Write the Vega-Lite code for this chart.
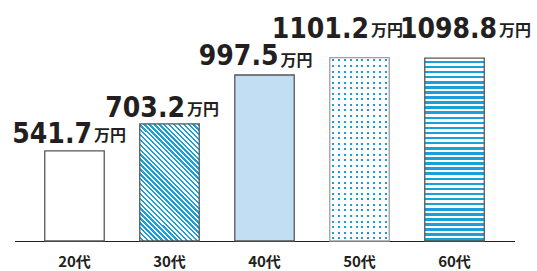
{
  "$schema": "https://vega.github.io/schema/vega-lite/v6.json",
  "width": 537,
  "height": 241,
  "padding": {"top": 0, "left": 0, "right": 0, "bottom": 30},
  "autosize": {"type": "none"},
  "background": "#ffffff",
  "config": {"view": {"stroke": null}},
  "data": {"values": [
    {"age": "20代", "value": 541.7},
    {"age": "30代", "value": 703.2},
    {"age": "40代", "value": 997.5},
    {"age": "50代", "value": 1101.2},
    {"age": "60代", "value": 1098.8}
  ]},
  "encoding": {
    "x": {"field": "age", "type": "nominal", "sort": null,
      "scale": {"range": [14.5, 514.5], "paddingInner": 0.374, "paddingOuter": 0.3185},
      "axis": {"title": null, "labelAngle": 0, "ticks": false, "tickSize": 0, "labelPadding": 13,
        "labelFont": "Noto Sans CJK JP", "labelFontSize": 15, "labelFontWeight": "bold", "labelColor": "#231f20",
        "domainColor": "#231f20", "domainWidth": 1, "grid": false}},
    "y": {"field": "value", "type": "quantitative", "scale": {"domain": [0, 1448]}, "axis": null}
  },
  "layer": [
    {"mark": {"type": "bar", "fill": "#ffffff", "strokeWidth": 0}},
    {"transform": [{"filter": "datum.age === '30代'"}],
     "mark": {"type": "bar", "strokeWidth": 0, "fill": {"gradient": "linear", "x1": 0, "y1": 1, "x2": 0.609, "y2": -0.199, "stops": [
      {"offset": 0, "color": "#ffffff"}, {"offset": 0.01389, "color": "#ffffff"}, {"offset": 0.01389, "color": "#1a9fdb"}, {"offset": 0.02778, "color": "#1a9fdb"},
      {"offset": 0.02778, "color": "#ffffff"}, {"offset": 0.04167, "color": "#ffffff"}, {"offset": 0.04167, "color": "#1a9fdb"}, {"offset": 0.05556, "color": "#1a9fdb"},
      {"offset": 0.05556, "color": "#ffffff"}, {"offset": 0.06944, "color": "#ffffff"}, {"offset": 0.06944, "color": "#1a9fdb"}, {"offset": 0.08333, "color": "#1a9fdb"},
      {"offset": 0.08333, "color": "#ffffff"}, {"offset": 0.09722, "color": "#ffffff"}, {"offset": 0.09722, "color": "#1a9fdb"}, {"offset": 0.11111, "color": "#1a9fdb"},
      {"offset": 0.11111, "color": "#ffffff"}, {"offset": 0.125, "color": "#ffffff"}, {"offset": 0.125, "color": "#1a9fdb"}, {"offset": 0.13889, "color": "#1a9fdb"},
      {"offset": 0.13889, "color": "#ffffff"}, {"offset": 0.15278, "color": "#ffffff"}, {"offset": 0.15278, "color": "#1a9fdb"}, {"offset": 0.16667, "color": "#1a9fdb"},
      {"offset": 0.16667, "color": "#ffffff"}, {"offset": 0.18056, "color": "#ffffff"}, {"offset": 0.18056, "color": "#1a9fdb"}, {"offset": 0.19444, "color": "#1a9fdb"},
      {"offset": 0.19444, "color": "#ffffff"}, {"offset": 0.20833, "color": "#ffffff"}, {"offset": 0.20833, "color": "#1a9fdb"}, {"offset": 0.22222, "color": "#1a9fdb"},
      {"offset": 0.22222, "color": "#ffffff"}, {"offset": 0.23611, "color": "#ffffff"}, {"offset": 0.23611, "color": "#1a9fdb"}, {"offset": 0.25, "color": "#1a9fdb"},
      {"offset": 0.25, "color": "#ffffff"}, {"offset": 0.26389, "color": "#ffffff"}, {"offset": 0.26389, "color": "#1a9fdb"}, {"offset": 0.27778, "color": "#1a9fdb"},
      {"offset": 0.27778, "color": "#ffffff"}, {"offset": 0.29167, "color": "#ffffff"}, {"offset": 0.29167, "color": "#1a9fdb"}, {"offset": 0.30556, "color": "#1a9fdb"},
      {"offset": 0.30556, "color": "#ffffff"}, {"offset": 0.31944, "color": "#ffffff"}, {"offset": 0.31944, "color": "#1a9fdb"}, {"offset": 0.33333, "color": "#1a9fdb"},
      {"offset": 0.33333, "color": "#ffffff"}, {"offset": 0.34722, "color": "#ffffff"}, {"offset": 0.34722, "color": "#1a9fdb"}, {"offset": 0.36111, "color": "#1a9fdb"},
      {"offset": 0.36111, "color": "#ffffff"}, {"offset": 0.375, "color": "#ffffff"}, {"offset": 0.375, "color": "#1a9fdb"}, {"offset": 0.38889, "color": "#1a9fdb"},
      {"offset": 0.38889, "color": "#ffffff"}, {"offset": 0.40278, "color": "#ffffff"}, {"offset": 0.40278, "color": "#1a9fdb"}, {"offset": 0.41667, "color": "#1a9fdb"},
      {"offset": 0.41667, "color": "#ffffff"}, {"offset": 0.43056, "color": "#ffffff"}, {"offset": 0.43056, "color": "#1a9fdb"}, {"offset": 0.44444, "color": "#1a9fdb"},
      {"offset": 0.44444, "color": "#ffffff"}, {"offset": 0.45833, "color": "#ffffff"}, {"offset": 0.45833, "color": "#1a9fdb"}, {"offset": 0.47222, "color": "#1a9fdb"},
      {"offset": 0.47222, "color": "#ffffff"}, {"offset": 0.48611, "color": "#ffffff"}, {"offset": 0.48611, "color": "#1a9fdb"}, {"offset": 0.5, "color": "#1a9fdb"},
      {"offset": 0.5, "color": "#ffffff"}, {"offset": 0.51389, "color": "#ffffff"}, {"offset": 0.51389, "color": "#1a9fdb"}, {"offset": 0.52778, "color": "#1a9fdb"},
      {"offset": 0.52778, "color": "#ffffff"}, {"offset": 0.54167, "color": "#ffffff"}, {"offset": 0.54167, "color": "#1a9fdb"}, {"offset": 0.55556, "color": "#1a9fdb"},
      {"offset": 0.55556, "color": "#ffffff"}, {"offset": 0.56944, "color": "#ffffff"}, {"offset": 0.56944, "color": "#1a9fdb"}, {"offset": 0.58333, "color": "#1a9fdb"},
      {"offset": 0.58333, "color": "#ffffff"}, {"offset": 0.59722, "color": "#ffffff"}, {"offset": 0.59722, "color": "#1a9fdb"}, {"offset": 0.61111, "color": "#1a9fdb"},
      {"offset": 0.61111, "color": "#ffffff"}, {"offset": 0.625, "color": "#ffffff"}, {"offset": 0.625, "color": "#1a9fdb"}, {"offset": 0.63889, "color": "#1a9fdb"},
      {"offset": 0.63889, "color": "#ffffff"}, {"offset": 0.65278, "color": "#ffffff"}, {"offset": 0.65278, "color": "#1a9fdb"}, {"offset": 0.66667, "color": "#1a9fdb"},
      {"offset": 0.66667, "color": "#ffffff"}, {"offset": 0.68056, "color": "#ffffff"}, {"offset": 0.68056, "color": "#1a9fdb"}, {"offset": 0.69444, "color": "#1a9fdb"},
      {"offset": 0.69444, "color": "#ffffff"}, {"offset": 0.70833, "color": "#ffffff"}, {"offset": 0.70833, "color": "#1a9fdb"}, {"offset": 0.72222, "color": "#1a9fdb"},
      {"offset": 0.72222, "color": "#ffffff"}, {"offset": 0.73611, "color": "#ffffff"}, {"offset": 0.73611, "color": "#1a9fdb"}, {"offset": 0.75, "color": "#1a9fdb"},
      {"offset": 0.75, "color": "#ffffff"}, {"offset": 0.76389, "color": "#ffffff"}, {"offset": 0.76389, "color": "#1a9fdb"}, {"offset": 0.77778, "color": "#1a9fdb"},
      {"offset": 0.77778, "color": "#ffffff"}, {"offset": 0.79167, "color": "#ffffff"}, {"offset": 0.79167, "color": "#1a9fdb"}, {"offset": 0.80556, "color": "#1a9fdb"},
      {"offset": 0.80556, "color": "#ffffff"}, {"offset": 0.81944, "color": "#ffffff"}, {"offset": 0.81944, "color": "#1a9fdb"}, {"offset": 0.83333, "color": "#1a9fdb"},
      {"offset": 0.83333, "color": "#ffffff"}, {"offset": 0.84722, "color": "#ffffff"}, {"offset": 0.84722, "color": "#1a9fdb"}, {"offset": 0.86111, "color": "#1a9fdb"},
      {"offset": 0.86111, "color": "#ffffff"}, {"offset": 0.875, "color": "#ffffff"}, {"offset": 0.875, "color": "#1a9fdb"}, {"offset": 0.88889, "color": "#1a9fdb"},
      {"offset": 0.88889, "color": "#ffffff"}, {"offset": 0.90278, "color": "#ffffff"}, {"offset": 0.90278, "color": "#1a9fdb"}, {"offset": 0.91667, "color": "#1a9fdb"},
      {"offset": 0.91667, "color": "#ffffff"}, {"offset": 0.93056, "color": "#ffffff"}, {"offset": 0.93056, "color": "#1a9fdb"}, {"offset": 0.94444, "color": "#1a9fdb"},
      {"offset": 0.94444, "color": "#ffffff"}, {"offset": 0.95833, "color": "#ffffff"}, {"offset": 0.95833, "color": "#1a9fdb"}, {"offset": 0.97222, "color": "#1a9fdb"},
      {"offset": 0.97222, "color": "#ffffff"}, {"offset": 0.98611, "color": "#ffffff"}, {"offset": 0.98611, "color": "#1a9fdb"}, {"offset": 1, "color": "#1a9fdb"}
     ]}}},
    {"transform": [{"filter": "datum.age === '40代'"}],
     "mark": {"type": "bar", "strokeWidth": 0, "fill": "#c2def3"}},
    {"transform": [{"filter": "datum.age === '50代'"}],
     "mark": {"type": "bar", "strokeWidth": 0, "fill": {"gradient": "linear", "x1": 0, "y1": 0, "x2": 1, "y2": 0, "stops": [
      {"offset": 0, "color": "#ffffff"},
      {"offset": 0.033, "color": "#ffffff"}, {"offset": 0.033, "color": "#1a9fdb"}, {"offset": 0.067, "color": "#1a9fdb"}, {"offset": 0.067, "color": "#ffffff"},
      {"offset": 0.133, "color": "#ffffff"}, {"offset": 0.133, "color": "#1a9fdb"}, {"offset": 0.167, "color": "#1a9fdb"}, {"offset": 0.167, "color": "#ffffff"},
      {"offset": 0.233, "color": "#ffffff"}, {"offset": 0.233, "color": "#1a9fdb"}, {"offset": 0.267, "color": "#1a9fdb"}, {"offset": 0.267, "color": "#ffffff"},
      {"offset": 0.333, "color": "#ffffff"}, {"offset": 0.333, "color": "#1a9fdb"}, {"offset": 0.367, "color": "#1a9fdb"}, {"offset": 0.367, "color": "#ffffff"},
      {"offset": 0.433, "color": "#ffffff"}, {"offset": 0.433, "color": "#1a9fdb"}, {"offset": 0.467, "color": "#1a9fdb"}, {"offset": 0.467, "color": "#ffffff"},
      {"offset": 0.533, "color": "#ffffff"}, {"offset": 0.533, "color": "#1a9fdb"}, {"offset": 0.567, "color": "#1a9fdb"}, {"offset": 0.567, "color": "#ffffff"},
      {"offset": 0.633, "color": "#ffffff"}, {"offset": 0.633, "color": "#1a9fdb"}, {"offset": 0.667, "color": "#1a9fdb"}, {"offset": 0.667, "color": "#ffffff"},
      {"offset": 0.733, "color": "#ffffff"}, {"offset": 0.733, "color": "#1a9fdb"}, {"offset": 0.767, "color": "#1a9fdb"}, {"offset": 0.767, "color": "#ffffff"},
      {"offset": 0.833, "color": "#ffffff"}, {"offset": 0.833, "color": "#1a9fdb"}, {"offset": 0.867, "color": "#1a9fdb"}, {"offset": 0.867, "color": "#ffffff"},
      {"offset": 0.933, "color": "#ffffff"}, {"offset": 0.933, "color": "#1a9fdb"}, {"offset": 0.967, "color": "#1a9fdb"}, {"offset": 0.967, "color": "#ffffff"},
      {"offset": 1, "color": "#ffffff"}
     ]}}},
    {"transform": [{"filter": "datum.age === '50代'"}],
     "mark": {"type": "bar", "strokeWidth": 0, "fill": {"gradient": "linear", "x1": 0, "y1": 0, "x2": 0, "y2": 1, "stops": [
      {"offset": 0, "color": "#ffffff"},
      {"offset": 0.0097, "color": "#ffffff"}, {"offset": 0.0097, "color": "rgba(255,255,255,0)"}, {"offset": 0.0206, "color": "rgba(255,255,255,0)"}, {"offset": 0.0206, "color": "#ffffff"},
      {"offset": 0.0400, "color": "#ffffff"}, {"offset": 0.0400, "color": "rgba(255,255,255,0)"}, {"offset": 0.0509, "color": "rgba(255,255,255,0)"}, {"offset": 0.0509, "color": "#ffffff"},
      {"offset": 0.0703, "color": "#ffffff"}, {"offset": 0.0703, "color": "rgba(255,255,255,0)"}, {"offset": 0.0812, "color": "rgba(255,255,255,0)"}, {"offset": 0.0812, "color": "#ffffff"},
      {"offset": 0.1006, "color": "#ffffff"}, {"offset": 0.1006, "color": "rgba(255,255,255,0)"}, {"offset": 0.1115, "color": "rgba(255,255,255,0)"}, {"offset": 0.1115, "color": "#ffffff"},
      {"offset": 0.1309, "color": "#ffffff"}, {"offset": 0.1309, "color": "rgba(255,255,255,0)"}, {"offset": 0.1418, "color": "rgba(255,255,255,0)"}, {"offset": 0.1418, "color": "#ffffff"},
      {"offset": 0.1612, "color": "#ffffff"}, {"offset": 0.1612, "color": "rgba(255,255,255,0)"}, {"offset": 0.1721, "color": "rgba(255,255,255,0)"}, {"offset": 0.1721, "color": "#ffffff"},
      {"offset": 0.1915, "color": "#ffffff"}, {"offset": 0.1915, "color": "rgba(255,255,255,0)"}, {"offset": 0.2024, "color": "rgba(255,255,255,0)"}, {"offset": 0.2024, "color": "#ffffff"},
      {"offset": 0.2218, "color": "#ffffff"}, {"offset": 0.2218, "color": "rgba(255,255,255,0)"}, {"offset": 0.2327, "color": "rgba(255,255,255,0)"}, {"offset": 0.2327, "color": "#ffffff"},
      {"offset": 0.2521, "color": "#ffffff"}, {"offset": 0.2521, "color": "rgba(255,255,255,0)"}, {"offset": 0.2630, "color": "rgba(255,255,255,0)"}, {"offset": 0.2630, "color": "#ffffff"},
      {"offset": 0.2824, "color": "#ffffff"}, {"offset": 0.2824, "color": "rgba(255,255,255,0)"}, {"offset": 0.2933, "color": "rgba(255,255,255,0)"}, {"offset": 0.2933, "color": "#ffffff"},
      {"offset": 0.3127, "color": "#ffffff"}, {"offset": 0.3127, "color": "rgba(255,255,255,0)"}, {"offset": 0.3236, "color": "rgba(255,255,255,0)"}, {"offset": 0.3236, "color": "#ffffff"},
      {"offset": 0.3430, "color": "#ffffff"}, {"offset": 0.3430, "color": "rgba(255,255,255,0)"}, {"offset": 0.3539, "color": "rgba(255,255,255,0)"}, {"offset": 0.3539, "color": "#ffffff"},
      {"offset": 0.3733, "color": "#ffffff"}, {"offset": 0.3733, "color": "rgba(255,255,255,0)"}, {"offset": 0.3842, "color": "rgba(255,255,255,0)"}, {"offset": 0.3842, "color": "#ffffff"},
      {"offset": 0.4036, "color": "#ffffff"}, {"offset": 0.4036, "color": "rgba(255,255,255,0)"}, {"offset": 0.4145, "color": "rgba(255,255,255,0)"}, {"offset": 0.4145, "color": "#ffffff"},
      {"offset": 0.4339, "color": "#ffffff"}, {"offset": 0.4339, "color": "rgba(255,255,255,0)"}, {"offset": 0.4448, "color": "rgba(255,255,255,0)"}, {"offset": 0.4448, "color": "#ffffff"},
      {"offset": 0.4642, "color": "#ffffff"}, {"offset": 0.4642, "color": "rgba(255,255,255,0)"}, {"offset": 0.4751, "color": "rgba(255,255,255,0)"}, {"offset": 0.4751, "color": "#ffffff"},
      {"offset": 0.4945, "color": "#ffffff"}, {"offset": 0.4945, "color": "rgba(255,255,255,0)"}, {"offset": 0.5054, "color": "rgba(255,255,255,0)"}, {"offset": 0.5054, "color": "#ffffff"},
      {"offset": 0.5249, "color": "#ffffff"}, {"offset": 0.5249, "color": "rgba(255,255,255,0)"}, {"offset": 0.5358, "color": "rgba(255,255,255,0)"}, {"offset": 0.5358, "color": "#ffffff"},
      {"offset": 0.5552, "color": "#ffffff"}, {"offset": 0.5552, "color": "rgba(255,255,255,0)"}, {"offset": 0.5661, "color": "rgba(255,255,255,0)"}, {"offset": 0.5661, "color": "#ffffff"},
      {"offset": 0.5855, "color": "#ffffff"}, {"offset": 0.5855, "color": "rgba(255,255,255,0)"}, {"offset": 0.5964, "color": "rgba(255,255,255,0)"}, {"offset": 0.5964, "color": "#ffffff"},
      {"offset": 0.6158, "color": "#ffffff"}, {"offset": 0.6158, "color": "rgba(255,255,255,0)"}, {"offset": 0.6267, "color": "rgba(255,255,255,0)"}, {"offset": 0.6267, "color": "#ffffff"},
      {"offset": 0.6461, "color": "#ffffff"}, {"offset": 0.6461, "color": "rgba(255,255,255,0)"}, {"offset": 0.6570, "color": "rgba(255,255,255,0)"}, {"offset": 0.6570, "color": "#ffffff"},
      {"offset": 0.6764, "color": "#ffffff"}, {"offset": 0.6764, "color": "rgba(255,255,255,0)"}, {"offset": 0.6873, "color": "rgba(255,255,255,0)"}, {"offset": 0.6873, "color": "#ffffff"},
      {"offset": 0.7067, "color": "#ffffff"}, {"offset": 0.7067, "color": "rgba(255,255,255,0)"}, {"offset": 0.7176, "color": "rgba(255,255,255,0)"}, {"offset": 0.7176, "color": "#ffffff"},
      {"offset": 0.7370, "color": "#ffffff"}, {"offset": 0.7370, "color": "rgba(255,255,255,0)"}, {"offset": 0.7479, "color": "rgba(255,255,255,0)"}, {"offset": 0.7479, "color": "#ffffff"},
      {"offset": 0.7673, "color": "#ffffff"}, {"offset": 0.7673, "color": "rgba(255,255,255,0)"}, {"offset": 0.7782, "color": "rgba(255,255,255,0)"}, {"offset": 0.7782, "color": "#ffffff"},
      {"offset": 0.7976, "color": "#ffffff"}, {"offset": 0.7976, "color": "rgba(255,255,255,0)"}, {"offset": 0.8085, "color": "rgba(255,255,255,0)"}, {"offset": 0.8085, "color": "#ffffff"},
      {"offset": 0.8279, "color": "#ffffff"}, {"offset": 0.8279, "color": "rgba(255,255,255,0)"}, {"offset": 0.8388, "color": "rgba(255,255,255,0)"}, {"offset": 0.8388, "color": "#ffffff"},
      {"offset": 0.8582, "color": "#ffffff"}, {"offset": 0.8582, "color": "rgba(255,255,255,0)"}, {"offset": 0.8691, "color": "rgba(255,255,255,0)"}, {"offset": 0.8691, "color": "#ffffff"},
      {"offset": 0.8885, "color": "#ffffff"}, {"offset": 0.8885, "color": "rgba(255,255,255,0)"}, {"offset": 0.8994, "color": "rgba(255,255,255,0)"}, {"offset": 0.8994, "color": "#ffffff"},
      {"offset": 0.9188, "color": "#ffffff"}, {"offset": 0.9188, "color": "rgba(255,255,255,0)"}, {"offset": 0.9297, "color": "rgba(255,255,255,0)"}, {"offset": 0.9297, "color": "#ffffff"},
      {"offset": 0.9491, "color": "#ffffff"}, {"offset": 0.9491, "color": "rgba(255,255,255,0)"}, {"offset": 0.9600, "color": "rgba(255,255,255,0)"}, {"offset": 0.9600, "color": "#ffffff"},
      {"offset": 0.9794, "color": "#ffffff"}, {"offset": 0.9794, "color": "rgba(255,255,255,0)"}, {"offset": 0.9903, "color": "rgba(255,255,255,0)"}, {"offset": 0.9903, "color": "#ffffff"},
      {"offset": 1, "color": "#ffffff"}
     ]}}},
    {"transform": [{"filter": "datum.age === '60代'"}],
     "mark": {"type": "bar", "strokeWidth": 0, "fill": {"gradient": "linear", "x1": 0, "y1": 0, "x2": 0, "y2": 1, "stops": [
      {"offset": 0, "color": "#ffffff"}, {"offset": 0.01389, "color": "#ffffff"}, {"offset": 0.01389, "color": "#1a9fdb"}, {"offset": 0.02778, "color": "#1a9fdb"},
      {"offset": 0.02778, "color": "#ffffff"}, {"offset": 0.04167, "color": "#ffffff"}, {"offset": 0.04167, "color": "#1a9fdb"}, {"offset": 0.05556, "color": "#1a9fdb"},
      {"offset": 0.05556, "color": "#ffffff"}, {"offset": 0.06944, "color": "#ffffff"}, {"offset": 0.06944, "color": "#1a9fdb"}, {"offset": 0.08333, "color": "#1a9fdb"},
      {"offset": 0.08333, "color": "#ffffff"}, {"offset": 0.09722, "color": "#ffffff"}, {"offset": 0.09722, "color": "#1a9fdb"}, {"offset": 0.11111, "color": "#1a9fdb"},
      {"offset": 0.11111, "color": "#ffffff"}, {"offset": 0.125, "color": "#ffffff"}, {"offset": 0.125, "color": "#1a9fdb"}, {"offset": 0.13889, "color": "#1a9fdb"},
      {"offset": 0.13889, "color": "#ffffff"}, {"offset": 0.15278, "color": "#ffffff"}, {"offset": 0.15278, "color": "#1a9fdb"}, {"offset": 0.16667, "color": "#1a9fdb"},
      {"offset": 0.16667, "color": "#ffffff"}, {"offset": 0.18056, "color": "#ffffff"}, {"offset": 0.18056, "color": "#1a9fdb"}, {"offset": 0.19444, "color": "#1a9fdb"},
      {"offset": 0.19444, "color": "#ffffff"}, {"offset": 0.20833, "color": "#ffffff"}, {"offset": 0.20833, "color": "#1a9fdb"}, {"offset": 0.22222, "color": "#1a9fdb"},
      {"offset": 0.22222, "color": "#ffffff"}, {"offset": 0.23611, "color": "#ffffff"}, {"offset": 0.23611, "color": "#1a9fdb"}, {"offset": 0.25, "color": "#1a9fdb"},
      {"offset": 0.25, "color": "#ffffff"}, {"offset": 0.26389, "color": "#ffffff"}, {"offset": 0.26389, "color": "#1a9fdb"}, {"offset": 0.27778, "color": "#1a9fdb"},
      {"offset": 0.27778, "color": "#ffffff"}, {"offset": 0.29167, "color": "#ffffff"}, {"offset": 0.29167, "color": "#1a9fdb"}, {"offset": 0.30556, "color": "#1a9fdb"},
      {"offset": 0.30556, "color": "#ffffff"}, {"offset": 0.31944, "color": "#ffffff"}, {"offset": 0.31944, "color": "#1a9fdb"}, {"offset": 0.33333, "color": "#1a9fdb"},
      {"offset": 0.33333, "color": "#ffffff"}, {"offset": 0.34722, "color": "#ffffff"}, {"offset": 0.34722, "color": "#1a9fdb"}, {"offset": 0.36111, "color": "#1a9fdb"},
      {"offset": 0.36111, "color": "#ffffff"}, {"offset": 0.375, "color": "#ffffff"}, {"offset": 0.375, "color": "#1a9fdb"}, {"offset": 0.38889, "color": "#1a9fdb"},
      {"offset": 0.38889, "color": "#ffffff"}, {"offset": 0.40278, "color": "#ffffff"}, {"offset": 0.40278, "color": "#1a9fdb"}, {"offset": 0.41667, "color": "#1a9fdb"},
      {"offset": 0.41667, "color": "#ffffff"}, {"offset": 0.43056, "color": "#ffffff"}, {"offset": 0.43056, "color": "#1a9fdb"}, {"offset": 0.44444, "color": "#1a9fdb"},
      {"offset": 0.44444, "color": "#ffffff"}, {"offset": 0.45833, "color": "#ffffff"}, {"offset": 0.45833, "color": "#1a9fdb"}, {"offset": 0.47222, "color": "#1a9fdb"},
      {"offset": 0.47222, "color": "#ffffff"}, {"offset": 0.48611, "color": "#ffffff"}, {"offset": 0.48611, "color": "#1a9fdb"}, {"offset": 0.5, "color": "#1a9fdb"},
      {"offset": 0.5, "color": "#ffffff"}, {"offset": 0.51389, "color": "#ffffff"}, {"offset": 0.51389, "color": "#1a9fdb"}, {"offset": 0.52778, "color": "#1a9fdb"},
      {"offset": 0.52778, "color": "#ffffff"}, {"offset": 0.54167, "color": "#ffffff"}, {"offset": 0.54167, "color": "#1a9fdb"}, {"offset": 0.55556, "color": "#1a9fdb"},
      {"offset": 0.55556, "color": "#ffffff"}, {"offset": 0.56944, "color": "#ffffff"}, {"offset": 0.56944, "color": "#1a9fdb"}, {"offset": 0.58333, "color": "#1a9fdb"},
      {"offset": 0.58333, "color": "#ffffff"}, {"offset": 0.59722, "color": "#ffffff"}, {"offset": 0.59722, "color": "#1a9fdb"}, {"offset": 0.61111, "color": "#1a9fdb"},
      {"offset": 0.61111, "color": "#ffffff"}, {"offset": 0.625, "color": "#ffffff"}, {"offset": 0.625, "color": "#1a9fdb"}, {"offset": 0.63889, "color": "#1a9fdb"},
      {"offset": 0.63889, "color": "#ffffff"}, {"offset": 0.65278, "color": "#ffffff"}, {"offset": 0.65278, "color": "#1a9fdb"}, {"offset": 0.66667, "color": "#1a9fdb"},
      {"offset": 0.66667, "color": "#ffffff"}, {"offset": 0.68056, "color": "#ffffff"}, {"offset": 0.68056, "color": "#1a9fdb"}, {"offset": 0.69444, "color": "#1a9fdb"},
      {"offset": 0.69444, "color": "#ffffff"}, {"offset": 0.70833, "color": "#ffffff"}, {"offset": 0.70833, "color": "#1a9fdb"}, {"offset": 0.72222, "color": "#1a9fdb"},
      {"offset": 0.72222, "color": "#ffffff"}, {"offset": 0.73611, "color": "#ffffff"}, {"offset": 0.73611, "color": "#1a9fdb"}, {"offset": 0.75, "color": "#1a9fdb"},
      {"offset": 0.75, "color": "#ffffff"}, {"offset": 0.76389, "color": "#ffffff"}, {"offset": 0.76389, "color": "#1a9fdb"}, {"offset": 0.77778, "color": "#1a9fdb"},
      {"offset": 0.77778, "color": "#ffffff"}, {"offset": 0.79167, "color": "#ffffff"}, {"offset": 0.79167, "color": "#1a9fdb"}, {"offset": 0.80556, "color": "#1a9fdb"},
      {"offset": 0.80556, "color": "#ffffff"}, {"offset": 0.81944, "color": "#ffffff"}, {"offset": 0.81944, "color": "#1a9fdb"}, {"offset": 0.83333, "color": "#1a9fdb"},
      {"offset": 0.83333, "color": "#ffffff"}, {"offset": 0.84722, "color": "#ffffff"}, {"offset": 0.84722, "color": "#1a9fdb"}, {"offset": 0.86111, "color": "#1a9fdb"},
      {"offset": 0.86111, "color": "#ffffff"}, {"offset": 0.875, "color": "#ffffff"}, {"offset": 0.875, "color": "#1a9fdb"}, {"offset": 0.88889, "color": "#1a9fdb"},
      {"offset": 0.88889, "color": "#ffffff"}, {"offset": 0.90278, "color": "#ffffff"}, {"offset": 0.90278, "color": "#1a9fdb"}, {"offset": 0.91667, "color": "#1a9fdb"},
      {"offset": 0.91667, "color": "#ffffff"}, {"offset": 0.93056, "color": "#ffffff"}, {"offset": 0.93056, "color": "#1a9fdb"}, {"offset": 0.94444, "color": "#1a9fdb"},
      {"offset": 0.94444, "color": "#ffffff"}, {"offset": 0.95833, "color": "#ffffff"}, {"offset": 0.95833, "color": "#1a9fdb"}, {"offset": 0.97222, "color": "#1a9fdb"},
      {"offset": 0.97222, "color": "#ffffff"}, {"offset": 0.98611, "color": "#ffffff"}, {"offset": 0.98611, "color": "#1a9fdb"}, {"offset": 1, "color": "#1a9fdb"}
     ]}}},
    {"mark": {"type": "bar", "filled": false, "strokeWidth": 1.3},
     "encoding": {"stroke": {"condition": {"test": "datum.age === '50代'", "value": "#a0a0a0"}, "value": "#575757"}}},
    {"transform": [{"filter": "datum.age === '20代'"}],
     "mark": {"type": "text", "align": "right", "baseline": "alphabetic", "dx": 17.5, "dy": -8, "font": "DejaVu Sans Condensed, Roboto Condensed, Roboto", "fontWeight": "bold", "fontSize": 28, "fill": "#231f20"},
     "encoding": {"text": {"field": "value", "type": "quantitative", "format": ".1f"}}},
    {"transform": [{"filter": "datum.age === '20代'"}],
     "mark": {"type": "text", "align": "left", "baseline": "alphabetic", "dx": 19.5, "dy": -10, "font": "Noto Sans CJK JP", "fontWeight": "bold", "fontSize": 16, "fill": "#231f20", "text": "万円"}},
    {"transform": [{"filter": "datum.age === '30代'"}],
     "mark": {"type": "text", "align": "right", "baseline": "alphabetic", "dx": 15.5, "dy": -7, "font": "DejaVu Sans Condensed, Roboto Condensed, Roboto", "fontWeight": "bold", "fontSize": 28, "fill": "#231f20"},
     "encoding": {"text": {"field": "value", "type": "quantitative", "format": ".1f"}}},
    {"transform": [{"filter": "datum.age === '30代'"}],
     "mark": {"type": "text", "align": "left", "baseline": "alphabetic", "dx": 17.5, "dy": -9, "font": "Noto Sans CJK JP", "fontWeight": "bold", "fontSize": 16, "fill": "#231f20", "text": "万円"}},
    {"transform": [{"filter": "datum.age === '40代'"}],
     "mark": {"type": "text", "align": "right", "baseline": "alphabetic", "dx": 14, "dy": -10, "font": "DejaVu Sans Condensed, Roboto Condensed, Roboto", "fontWeight": "bold", "fontSize": 28, "fill": "#231f20"},
     "encoding": {"text": {"field": "value", "type": "quantitative", "format": ".1f"}}},
    {"transform": [{"filter": "datum.age === '40代'"}],
     "mark": {"type": "text", "align": "left", "baseline": "alphabetic", "dx": 16, "dy": -9, "font": "Noto Sans CJK JP", "fontWeight": "bold", "fontSize": 16, "fill": "#231f20", "text": "万円"}},
    {"transform": [{"filter": "datum.age === '50代'"}],
     "mark": {"type": "text", "align": "right", "baseline": "alphabetic", "dx": 9.5, "dy": -20, "font": "DejaVu Sans Condensed, Roboto Condensed, Roboto", "fontWeight": "bold", "fontSize": 28, "fill": "#231f20"},
     "encoding": {"text": {"field": "value", "type": "quantitative", "format": ".1f"}}},
    {"transform": [{"filter": "datum.age === '50代'"}],
     "mark": {"type": "text", "align": "left", "baseline": "alphabetic", "dx": 11.5, "dy": -22, "font": "Noto Sans CJK JP", "fontWeight": "bold", "fontSize": 16, "fill": "#231f20", "text": "万円"}},
    {"transform": [{"filter": "datum.age === '60代'"}],
     "mark": {"type": "text", "align": "right", "baseline": "alphabetic", "dx": 42.6, "dy": -20.4, "font": "DejaVu Sans Condensed, Roboto Condensed, Roboto", "fontWeight": "bold", "fontSize": 28, "fill": "#231f20"},
     "encoding": {"text": {"field": "value", "type": "quantitative", "format": ".1f"}}},
    {"transform": [{"filter": "datum.age === '60代'"}],
     "mark": {"type": "text", "align": "left", "baseline": "alphabetic", "dx": 44.6, "dy": -22.4, "font": "Noto Sans CJK JP", "fontWeight": "bold", "fontSize": 16, "fill": "#231f20", "text": "万円"}}
  ]
}
